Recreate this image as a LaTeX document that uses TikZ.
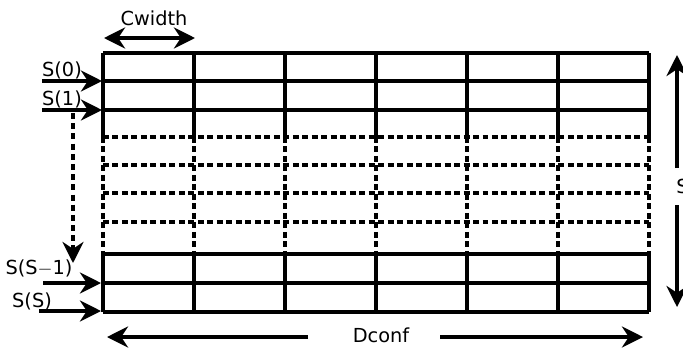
\documentclass[tikz,border=0pt]{standalone}
\usepackage{fontspec}
\setmainfont{DejaVu Sans}
\usetikzlibrary{arrows.meta}

\tikzset{
  cell/.style={line width=2.3pt},
  dashcell/.style={line width=1.9pt,dash pattern=on 3.4pt off 2pt},
  dim/.style={line width=1.8pt,{Stealth[length=12pt,width=12pt]}-{Stealth[length=12pt,width=12pt]}},
  feed/.style={line width=1.8pt,-{Stealth[length=12pt,width=12pt]}},
  lbl/.style={inner sep=0pt,font=\fontsize{11}{13}\selectfont}
}

\begin{document}
\begin{tikzpicture}[x=0.02cm,y=-0.02cm]
    \useasboundingbox (0,0) rectangle (683,349);
    % column edges of the table
    \def\cols{103,194,285,376,467,558,649}
    % solid rows on top
    \begin{scope}[cell]
        \draw (103,53) -- (649,53);
        \draw (103,81) -- (649,81);
        \draw (103,110) -- (649,110);
        \foreach \x in \cols
            \draw (\x,53) -- (\x,137);
    \end{scope}
    % the rows in between, dashed
    \begin{scope}[dashcell]
        \foreach \y in {137,165,193,222}
            \draw (103,\y) -- (649,\y);
        \foreach \x in \cols
            \draw (\x,137) -- (\x,254);
    \end{scope}
    % solid rows at the bottom
    \begin{scope}[cell]
        \foreach \y in {254,283,312}
            \draw (103,\y) -- (649,\y);
        \foreach \x in \cols
            \draw (\x,254) -- (\x,312);
    \end{scope}

    % width of one cell
    \node[lbl] (cw) at (154,18) {Cwidth};
    \coordinate (cwl) at (104,38);
    \coordinate (cwr) at (195,38);
    \draw[dim] (cwl) -- (cwr);

    % input streams
    \node[lbl] (s0) at (62,70) {S(0)};
    \node[lbl] (s1) at (62,99) {S(1)};
    \node[lbl] (sm) at (39,268) {S(S{\fontfamily{lmr}\selectfont$-$}1)};
    \node[lbl] (ss) at (32,301) {S(S)};
    \coordinate (a0) at (42,81);  \coordinate (b0) at (102,81);
    \coordinate (a1) at (42,110); \coordinate (b1) at (102,110);
    \coordinate (am) at (43,283); \coordinate (bm) at (101,283);
    \coordinate (as) at (39,311); \coordinate (bs) at (101,311);
    \draw[feed] (a0) -- (b0);
    \draw[feed] (a1) -- (b1);
    \draw[feed] (am) -- (bm);
    \draw[feed] (as) -- (bs);
    \coordinate (dtop) at (73,113);
    \coordinate (dbot) at (73,263);
    \draw[feed,dash pattern=on 3.4pt off 2.4pt] (dtop) -- (dbot);

    % number of rows
    \node[lbl,anchor=west] (sn) at (676,186) {S};
    \coordinate (st) at (677,55);
    \coordinate (sb) at (677,307);
    \coordinate (sn1) at (677,168);
    \coordinate (sn2) at (677,205);
    \draw[feed] (sn1) -- (st);
    \draw[feed] (sn2) -- (sb);

    % overall width
    \node[lbl] (dc) at (381,335) {Dconf};
    \coordinate (dl) at (107,337);
    \coordinate (dlo) at (308,337);
    \coordinate (dro) at (440,337);
    \coordinate (dr) at (643,337);
    \draw[feed] (dlo) -- (dl);
    \draw[feed] (dro) -- (dr);
\end{tikzpicture}
\end{document}
